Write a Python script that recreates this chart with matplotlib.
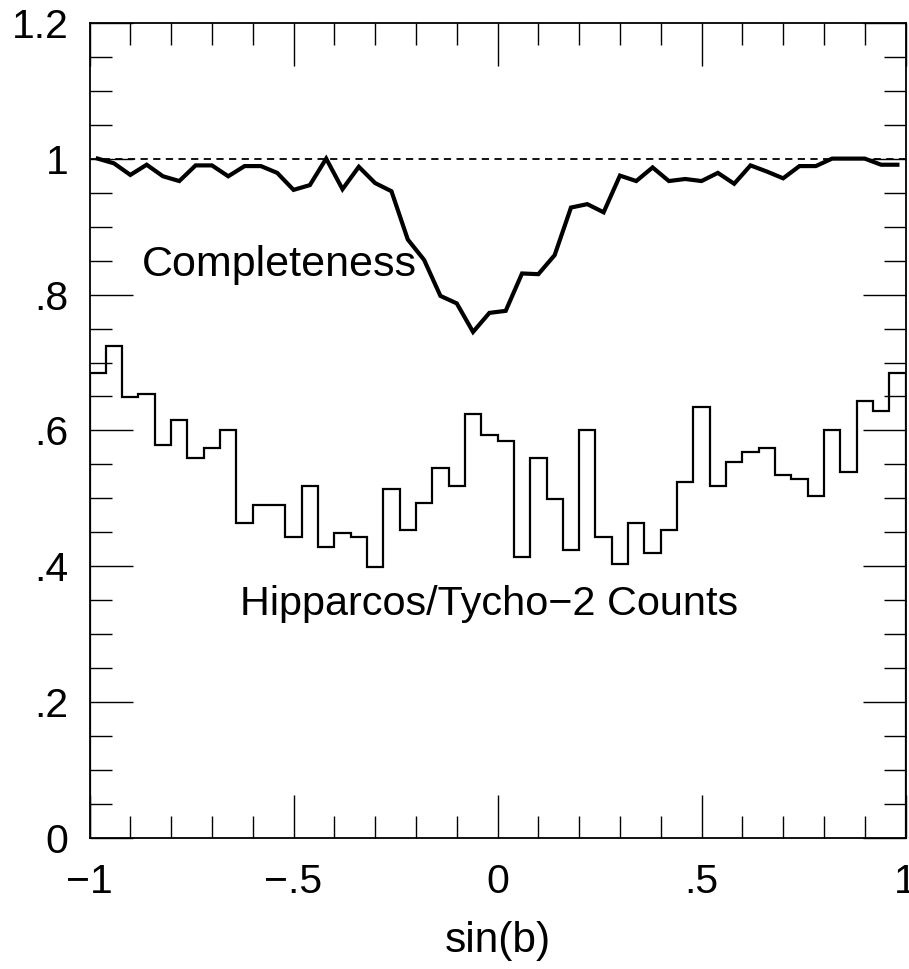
import numpy as np
import matplotlib
matplotlib.use("Agg")
import matplotlib.pyplot as plt
from matplotlib.ticker import MultipleLocator, FixedLocator, FixedFormatter

plt.rcParams['font.family'] = ['Liberation Sans', 'DejaVu Sans']

# Histogram bin edges (50 bins from -1 to 1)
bin_edges = np.linspace(-1, 1, 51)
bin_centers = 0.5 * (bin_edges[:-1] + bin_edges[1:])

counts = [0.684, 0.724, 0.649, 0.654, 0.579, 0.615, 0.560, 0.574, 0.600, 0.464,
          0.490, 0.490, 0.444, 0.519, 0.429, 0.449, 0.444, 0.399, 0.514, 0.454,
          0.494, 0.545, 0.519, 0.624, 0.594, 0.584, 0.414, 0.559, 0.499, 0.424,
          0.600, 0.444, 0.404, 0.464, 0.419, 0.454, 0.524, 0.634, 0.519, 0.554,
          0.569, 0.574, 0.534, 0.529, 0.504, 0.600, 0.539, 0.644, 0.629, 0.684]

completeness = [1.000, 0.993, 0.976, 0.991, 0.974, 0.967, 0.990, 0.990, 0.974, 0.989,
                0.989, 0.979, 0.954, 0.961, 1.000, 0.955, 0.988, 0.964, 0.952, 0.881,
                0.851, 0.798, 0.787, 0.745, 0.773, 0.776, 0.831, 0.830, 0.858, 0.928,
                0.933, 0.921, 0.975, 0.967, 0.987, 0.967, 0.970, 0.967, 0.979, 0.963,
                0.990, 0.981, 0.971, 0.989, 0.989, 1.000, 1.000, 1.000, 0.991, 0.991]

x_major = [-1, -0.5, 0, 0.5, 1]
x_labels = ['\u22121', '\u2212.5', '0', '.5', '1']
y_major = [0, 0.2, 0.4, 0.6, 0.8, 1.0, 1.2]
y_labels = ['0', '.2', '.4', '.6', '.8', '1', '1.2']

fig = plt.figure(figsize=(9.09, 9.69), dpi=100)
ax = fig.add_axes([0.0985, 0.1349, 0.8977, 0.8417])

ax.stairs(counts, bin_edges, color='black', linewidth=1.6)
ax.plot(bin_centers, completeness, color='black', linewidth=3.0, solid_joinstyle='miter')
ax.axhline(1.0, color='black', linewidth=1.3, linestyle=(0, (4, 3)))

ax.set_xlim(-1, 1)
ax.set_ylim(0, 1.2)

ax.xaxis.set_major_locator(FixedLocator(x_major))
ax.xaxis.set_major_formatter(FixedFormatter(x_labels))
ax.xaxis.set_minor_locator(MultipleLocator(0.1))
ax.yaxis.set_major_locator(FixedLocator(y_major))
ax.yaxis.set_major_formatter(FixedFormatter(y_labels))
ax.yaxis.set_minor_locator(MultipleLocator(0.05))

ax.tick_params(which='both', direction='in', top=True, right=True, color='black')
ax.tick_params(which='major', length=31, width=1.0, labelsize=29.5)
ax.tick_params(which='minor', length=15.5, width=1.0)
ax.tick_params(axis='x', which='major', pad=18)
ax.tick_params(axis='y', which='major', pad=15)

for s in ax.spines.values():
    s.set_linewidth(1.3)

ax.set_xlabel('sin(b)', fontsize=30.5, labelpad=14)

ax.text(-0.871, 0.828, 'Completeness', fontsize=31, ha='left', va='baseline')
ax.text(-0.63, 0.328, 'Hipparcos/Tycho\u22122 Counts', fontsize=29.8, ha='left', va='baseline')

fig.savefig('out.png', dpi=100)
